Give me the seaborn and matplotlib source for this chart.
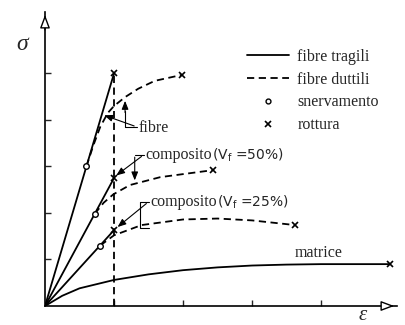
import matplotlib
matplotlib.use('Agg')
import matplotlib.pyplot as plt
import seaborn as sns
from matplotlib.lines import Line2D

# Curve tensione-deformazione (unità arbitrarie)
fibra_fragile_eps = [0.0, 1.0]
fibra_fragile_sig = [0.0, 5.0]
fibra_duttile_eps = [0.6, 0.7, 0.8, 0.91, 1.0, 1.16, 1.35, 1.59, 1.99]
fibra_duttile_sig = [3.0, 3.45, 3.85, 4.15, 4.3, 4.49, 4.67, 4.84, 4.97]

comp50_eps = [0.0, 1.0]
comp50_sig = [0.0, 2.75]
comp50_dutt_eps = [0.72, 0.85, 0.99, 1.23, 1.67, 2.43]
comp50_dutt_sig = [1.98, 2.22, 2.4, 2.6, 2.77, 2.92]

comp25_eps = [0.0, 1.0]
comp25_sig = [0.0, 1.63]
comp25_dutt_eps = [0.8, 1.0, 1.4, 2.0, 2.5, 3.0, 3.62]
comp25_dutt_sig = [1.3, 1.52, 1.74, 1.86, 1.88, 1.84, 1.74]

matrice_eps = [0.0, 0.25, 0.5, 1.0, 1.5, 2.0, 2.5, 3.0, 3.5, 4.0, 5.0]
matrice_sig = [0.0, 0.22, 0.38, 0.56, 0.68, 0.77, 0.83, 0.87, 0.89, 0.9, 0.9]

eps_rottura_fibra = [1.0, 1.0]
sig_rottura_fibra = [0.0, 5.0]

snerv_eps = [0.6, 0.72, 0.8]
snerv_sig = [3.0, 1.98, 1.3]
rott_eps = [1.0, 1.0, 1.0, 1.99, 2.43, 3.62, 5.0]
rott_sig = [5.0, 2.75, 1.63, 4.97, 2.92, 1.74, 0.9]

sns.set_style('white')
plt.rcParams['font.family'] = ['Liberation Serif', 'DejaVu Serif']

fig = plt.figure(figsize=(4.06, 3.25), dpi=100)
ax = fig.add_axes([45 / 406, 19 / 325, 352 / 406, 294 / 325])

tratteggio = (0, (4, 2.5))
lw = 1.3

# linee continue (fibre fragili, compositi, matrice)
for xs, ys in [(fibra_fragile_eps, fibra_fragile_sig), (comp50_eps, comp50_sig),
               (comp25_eps, comp25_sig), (matrice_eps, matrice_sig)]:
    sns.lineplot(x=xs, y=ys, ax=ax, color='black', lw=lw, estimator=None, sort=False)

# linee tratteggiate (fibre duttili)
for xs, ys in [(fibra_duttile_eps, fibra_duttile_sig), (comp50_dutt_eps, comp50_dutt_sig),
               (comp25_dutt_eps, comp25_dutt_sig), (eps_rottura_fibra, sig_rottura_fibra)]:
    sns.lineplot(x=xs, y=ys, ax=ax, color='black', lw=lw, linestyle=tratteggio,
                 estimator=None, sort=False)

ax.plot(snerv_eps, snerv_sig, 'o', ms=4, mfc='white', mec='black', mew=1.0, zorder=5)
ax.plot(rott_eps, rott_sig, 'x', ms=4.5, color='black', mew=1.2, zorder=5)

ax.set_xlim(0, 5.10)
ax.set_ylim(0, 6.32)
ax.set_xticks([1, 2, 3, 4])
ax.set_yticks([1, 2, 3, 4, 5])
ax.tick_params(direction='in', length=4, width=1, labelbottom=False, labelleft=False,
               bottom=True, left=True)
for s in ['top', 'right']:
    ax.spines[s].set_visible(False)
for s in ['left', 'bottom']:
    ax.spines[s].set_linewidth(1.2)
    ax.spines[s].set_color('black')

# frecce degli assi
freccia = dict(arrowstyle='-|>,head_length=0.8,head_width=0.3', fc='white', ec='black', lw=1.0)
ax.annotate('', xy=(0, 1.0), xytext=(0, 0.93), xycoords='axes fraction',
            arrowprops=freccia, annotation_clip=False)
ax.annotate('', xy=(1.0, 0), xytext=(0.95, 0), xycoords='axes fraction',
            arrowprops=freccia, annotation_clip=False)

fig.text(22 / 406, 1 - 44 / 325, 'σ', fontsize=17, style='italic', ha='center', va='center')
fig.text(363 / 406, 1 - 315 / 325, 'ε', fontsize=15, style='italic', ha='center', va='center')

# etichette con richiami
punta = dict(arrowstyle='-|>,head_length=0.5,head_width=0.2', color='black', lw=0.8)
fs = 11.5

ax.text(1.35, 3.83, 'fibre', fontsize=fs, va='center', ha='left')
ax.annotate('', xy=(0.82, 4.12), xytext=(1.33, 3.85), arrowprops=punta)
ax.plot([1.33, 1.16, 1.16], [3.85, 3.85, 4.2], color='black', lw=0.8)
ax.annotate('', xy=(1.16, 4.47), xytext=(1.16, 4.1), arrowprops=punta)

t50 = ax.text(1.45, 3.25, 'composito', fontsize=fs, va='center', ha='left')
ax.annotate('(V$_\\mathregular{f}$ =50%)', xy=(1.0, 0.45), xycoords=t50, va='center', ha='left',
            fontsize=10, family='DejaVu Sans')
ax.annotate('', xy=(1.0, 2.77), xytext=(1.43, 3.25), arrowprops=punta)
ax.plot([1.43, 1.30], [3.25, 3.25], color='black', lw=0.8)
ax.annotate('', xy=(1.30, 2.64), xytext=(1.30, 3.26), arrowprops=punta)

t25 = ax.text(1.52, 2.24, 'composito', fontsize=fs, va='center', ha='left')
ax.annotate('(V$_\\mathregular{f}$ =25%)', xy=(1.0, 0.45), xycoords=t25, va='center', ha='left',
            fontsize=10, family='DejaVu Sans')
ax.annotate('', xy=(1.02, 1.66), xytext=(1.50, 2.24), arrowprops=punta)
ax.plot([1.50, 1.38, 1.38, 1.50], [2.24, 2.24, 1.68, 1.68], color='black', lw=0.8)

ax.text(3.97, 1.14, 'matrice', fontsize=fs, va='center', ha='center')

# legenda
maniglie = [
    Line2D([], [], color='black', lw=lw),
    Line2D([], [], color='black', lw=lw, linestyle=tratteggio),
    Line2D([], [], color='black', lw=0, marker='o', ms=3.5, mfc='white', mec='black'),
    Line2D([], [], color='black', lw=0, marker='x', ms=4, mew=1.2),
]
etichette = ['fibre tragili', 'fibre duttili', 'snervamento', 'rottura']
ax.legend(maniglie, etichette, loc='upper left', bbox_to_anchor=(247 / 406, 1 - 49 / 325),
          bbox_transform=fig.transFigure, frameon=False, fontsize=fs, handlelength=2.6,
          handletextpad=0.55, labelspacing=0.42, borderaxespad=0, borderpad=0)

fig.savefig('out.png', dpi=100)
